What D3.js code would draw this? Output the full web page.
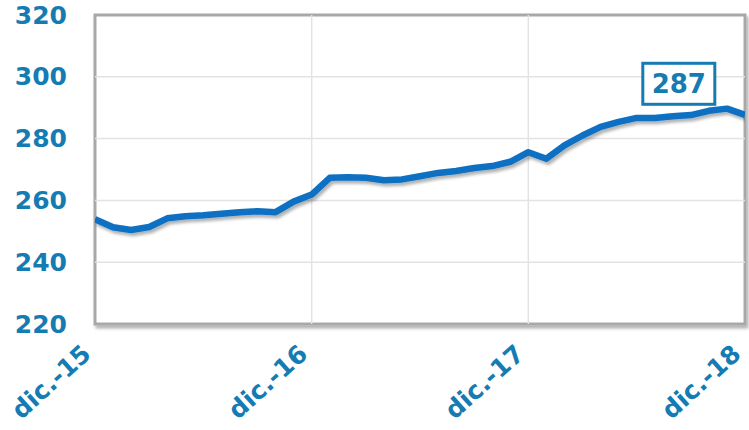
<!DOCTYPE html>
<html>
<head>
<meta charset="utf-8">
<script src="https://cdn.jsdelivr.net/npm/d3@7"></script>
<style>
body { margin: 0; background: #fff; }
svg { display: block; font-family: "DejaVu Sans", Verdana, sans-serif; }
</style>
</head>
<body>
<svg id="chart"></svg>
<script>
// monthly values, dic.-15 .. dic.-18
const months = d3.range(37);
const values = [
253.9, 251.3, 250.4, 251.4, 254.2, 254.9, 255.2, 255.7, 256.2, 256.5, 256.2, 259.6,
261.9, 267.3, 267.5, 267.3, 266.5, 266.8, 267.8, 268.9, 269.5, 270.5, 271.1, 272.5,
275.6, 273.5, 277.8, 281.0, 283.8, 285.4, 286.7, 286.7, 287.2, 287.6, 289.0, 289.7,
287.7
];
const xTicks = [0, 12, 24, 36];
const xLabels = ["dic.-15", "dic.-16", "dic.-17", "dic.-18"];
const yTicks = [220, 240, 260, 280, 300, 320];
const lastLabel = "287";

const W = 749, H = 430;
const m = {left: 95, right: 4, top: 15, bottom: 106};
const textColor = "#157cb3";
const lineColor = "#0a6fc2";

const svg = d3.select("#chart").attr("width", W).attr("height", H);

const defs = svg.append("defs");
const f = defs.append("filter").attr("id", "shadow")
  .attr("x", "-5%").attr("y", "-5%").attr("width", "110%").attr("height", "115%");
f.append("feDropShadow").attr("dx", 2).attr("dy", 3).attr("stdDeviation", 1.5)
  .attr("flood-color", "#000").attr("flood-opacity", 0.3);

const x = d3.scaleLinear().domain([0, 36]).range([m.left, W - m.right]);
const y = d3.scaleLinear().domain([220, 320]).range([H - m.bottom, m.top]);

// plot frame
svg.append("rect")
  .attr("x", x(0)).attr("y", y(320))
  .attr("width", x(36) - x(0)).attr("height", y(220) - y(320))
  .attr("fill", "#fff").attr("stroke", "#a8a8a8").attr("stroke-width", 3)
  .attr("filter", "url(#shadow)");

// grid
svg.append("g").selectAll("line").data(yTicks.slice(1, -1)).join("line")
  .attr("x1", x(0)).attr("x2", x(36))
  .attr("y1", d => y(d)).attr("y2", d => y(d))
  .attr("stroke", "#e3e3e3").attr("stroke-width", 1.5);
svg.append("g").selectAll("line").data(xTicks.slice(1, -1)).join("line")
  .attr("x1", d => x(d)).attr("x2", d => x(d))
  .attr("y1", y(320)).attr("y2", y(220))
  .attr("stroke", "#e3e3e3").attr("stroke-width", 1.5);

// y axis labels
const yAxis = svg.append("g")
  .attr("transform", `translate(${m.left - 28},0)`)
  .call(d3.axisLeft(y).tickValues(yTicks).tickSize(0).tickPadding(0));
yAxis.select(".domain").remove();
yAxis.selectAll("text")
  .attr("fill", textColor).attr("font-size", 25).attr("font-weight", "bold")
  .attr("font-family", "DejaVu Sans, sans-serif");

// x axis labels
const xAxis = svg.append("g")
  .attr("transform", `translate(0,${H - m.bottom})`)
  .call(d3.axisBottom(x).tickValues(xTicks).tickFormat((d, i) => xLabels[i]).tickSize(0));
xAxis.select(".domain").remove();
xAxis.selectAll("text")
  .attr("fill", textColor).attr("font-size", 25).attr("font-weight", "bold")
  .attr("font-family", "DejaVu Sans, sans-serif")
  .attr("text-anchor", "end")
  .attr("dy", null).attr("y", 0)
  .attr("transform", "translate(-3,32) rotate(-42)");

// line
const line = d3.line().x(d => x(d[0])).y(d => y(d[1]));
const clip = defs.append("clipPath").attr("id", "clip");
clip.append("rect").attr("x", x(0)).attr("y", y(320) - 10)
  .attr("width", x(36) - x(0)).attr("height", y(220) - y(320) + 20);
svg.append("path")
  .datum(months.map((mm, i) => [mm, values[i]]))
  .attr("d", line)
  .attr("fill", "none").attr("stroke", lineColor).attr("stroke-width", 6.5)
  .attr("stroke-linejoin", "round")
  .attr("clip-path", "url(#clip)")
  .attr("filter", "url(#shadow)");

// last value label
const lx = x(32.5) - 3, ly = y(297.9);
const lbl = svg.append("g");
lbl.append("rect")
  .attr("x", lx - 36).attr("y", ly - 20).attr("width", 72).attr("height", 41)
  .attr("fill", "#fff").attr("stroke", textColor).attr("stroke-width", 3);
lbl.append("text")
  .attr("x", lx).attr("y", ly + 9.5).attr("text-anchor", "middle")
  .attr("fill", textColor).attr("font-size", 26).attr("font-weight", "bold")
  .text(lastLabel);
</script>
</body>
</html>
